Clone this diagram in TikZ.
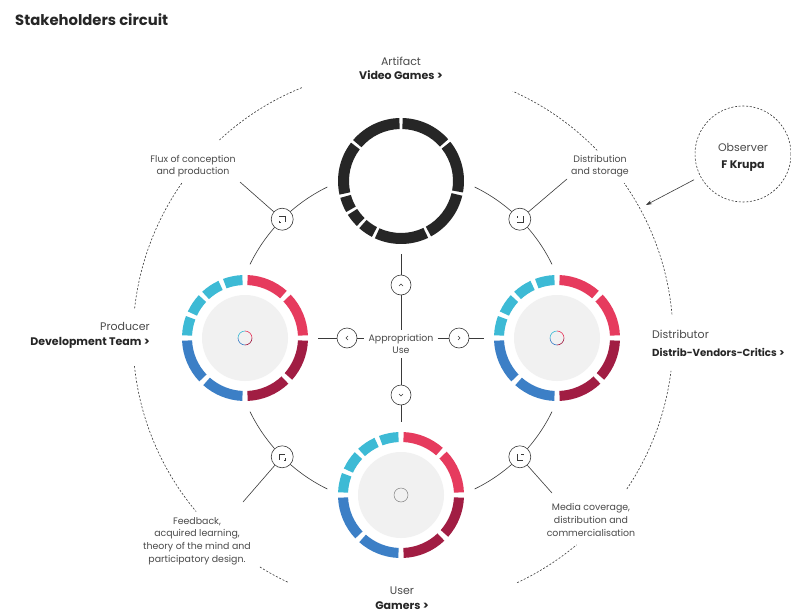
\documentclass[tikz,border=0pt]{standalone}
\usepackage{fontspec}
\setmainfont{Poppins}
\usetikzlibrary{arrows.meta,calc}
\definecolor{cRed}{HTML}{E63B5E}
\definecolor{cDark}{HTML}{A11D43}
\definecolor{cBlue}{HTML}{3C7FC6}
\definecolor{cCyan}{HTML}{3DBAD5}
\definecolor{cBlack}{HTML}{262626}
\definecolor{cDisc}{HTML}{F1F1F1}
\definecolor{cLine}{HTML}{3A3A3A}
\definecolor{cText}{HTML}{4A4A4A}
% ring segment: centre node, outer r, inner r, angle a1, angle a2, colour
\newcommand\rseg[6]{%
  \fill[#6] ($(#1.center)+(-#4:#2)$) arc[start angle=-#4,end angle=-#5,radius=#2]
    -- ($(#1.center)+(-#5:#3)$) arc[start angle=-#5,end angle=-#4,radius=#3] -- cycle;}
\newcommand\colring[1]{%
  \fill[cDisc] (#1.center) circle[radius=43];
  \foreach \a/\b/\c in {2.5/43.5/cRed,48.5/87.5/cRed,
      92.5/110.4/cCyan,114.9/132.8/cCyan,137.2/155.1/cCyan,159.6/177.5/cCyan,
      182.5/223.5/cBlue,228.5/267.5/cBlue,
      272.5/313.5/cDark,318.5/357.5/cDark}
    {\rseg{#1}{63}{53}{\a}{\b}{\c}}}
\newcommand\minicol[1]{%
  \foreach \a/\c in {0/cRed,90/cCyan,180/cBlue,270/cDark}
    {\draw[\c,line width=0.6pt] ($(#1.center)+(-\a:7)$) arc[start angle=-\a,end angle=-\a-90,radius=7];}}
\newcommand\darc[2]{%
  \draw[bigdash] ($(B)+(-#1:270)$) arc[start angle=-#1,end angle=-#2,radius=270];}
\newcommand\carc[2]{%
  \draw[conn] ($(C)+(-#1:168)$) arc[start angle=-#1,end angle=-#2,radius=168];}
\begin{document}
\begin{tikzpicture}[x=1pt,y=-1pt,
  ringnode/.style={circle,minimum size=146pt,inner sep=0pt},
  hub/.style={circle,draw=cLine,line width=0.6pt,fill=white,minimum size=22pt,inner sep=0pt},
  xhub/.style={hub,minimum size=20pt},
  conn/.style={draw=cLine,line width=0.6pt},
  glyph/.style={draw=cLine,line width=0.55pt},
  bigdash/.style={draw=cLine,line width=0.6pt,dash pattern=on 2pt off 1.7pt},
  lab/.style={font=\fontsize{9.4}{12.6}\selectfont,text=cText,align=center,inner sep=0pt},
  head/.style={font=\fontsize{11}{12}\selectfont,text=cText,inner sep=0pt},
  headb/.style={font=\fontsize{11}{12}\selectfont\bfseries,text=black!85,inner sep=0pt}]
\clip (0,0) rectangle (791,615);
\fill[white] (0,0) rectangle (791,615);

\node[anchor=west,inner sep=0pt,font=\fontsize{14.8}{16}\selectfont\bfseries,text=black!85] (title) at (15,20) {Stakeholders circuit};

\coordinate (C) at (401,338);
\coordinate (B) at (403,338);

% outer dashed circle (broken at labels)
\darc{5}{35}\darc{44}{66}\darc{112}{133}\darc{145}{174}
\darc{186}{220}\darc{238}{245}\darc{295}{310}\darc{326}{353}

% ring placeholders
\node[ringnode] (top) at (401,181) {};
\node[ringnode] (left) at (245,338) {};
\node[ringnode] (right) at (557,338) {};
\node[ringnode] (bottom) at (401,495) {};

% black ring
\foreach \a/\b in {41.5/88.5,91.5/139.5,142.5/192.5,195.5/209.5,212.5/225.5,
    228.5/242.5,245.5/295.5,298.5/346.5,349.5/398.5}
  {\rseg{top}{63}{52}{\a}{\b}{cBlack}}

% coloured rings
\colring{left}\colring{right}\colring{bottom}
\minicol{left}\minicol{right}
\draw[gray,line width=0.5pt] (bottom.center) circle[radius=7];

% connector arcs between rings
\carc{116}{154}\carc{26}{64}\carc{206}{244}\carc{296}{334}

\node[hub] (htl) at ($(C)+(-135:168)$) {};
\node[hub] (htr) at ($(C)+(-45:168)$) {};
\node[hub] (hbl) at ($(C)+(-225:168)$) {};
\node[hub] (hbr) at ($(C)+(-315:168)$) {};

% glyphs in hubs
\draw[glyph] ($(htl)+(-3,-3)$) -- ++(6,0) -- ++(0,6);
\draw[glyph] ($(htl)+(-3,1.5)$) -- ++(0,1.5) -- ++(1.5,0);
\draw[glyph] ($(htr)+(-3,3)$) -- ++(6,0) -- ++(0,-6);
\draw[glyph] ($(htr)+(-3,-1.5)$) -- ++(0,-1.5) -- ++(1.5,0);
\draw[glyph] ($(hbl)+(-3,3)$) -- ++(0,-6) -- ++(6,0);
\draw[glyph] ($(hbl)+(3,1.5)$) -- ++(0,1.5) -- ++(-1.5,0);
\draw[glyph] ($(hbr)+(-3,-3)$) -- ++(0,6) -- ++(6,0);
\draw[glyph] ($(hbr)+(3,-1.5)$) -- ++(0,-1.5) -- ++(-1.5,0);

% labels of the flows
\node[lab] (flux) at (193,166) {Flux of conception\\and production};
\node[lab] (dist) at (600,166) {Distribution\\and storage};
\node[lab] (feed) at (197,541) {Feedback,\\acquired learning,\\theory of the mind and\\participatory design.};
\node[lab] (media) at (591,520) {Media coverage,\\distribution and\\commercialisation};

\coordinate (ltl) at (240,182);
\coordinate (ltr) at (567,179);
\coordinate (lbl) at (243,502);
\coordinate (lbr) at (552,493);
\draw[conn] (htl) -- (ltl);
\draw[conn] (htr) -- (ltr);
\draw[conn] (hbl) -- (lbl);
\draw[conn] (hbr) -- (lbr);

% central cross
\node[lab,inner sep=4pt] (app) at (401,344) {Appropriation\\Use};
\node[xhub] (nup) at (401,285) {};
\node[xhub] (ndn) at (401,395) {};
\node[xhub] (nl) at (347,338) {};
\node[xhub] (nr) at (459,338) {};
\draw[conn] (top) -- (nup) -- (app.north);
\draw[conn] (app.south) -- (ndn) -- (bottom);
\draw[conn] (left) -- (nl) -- (nl -| app.west);
\draw[conn] (nr -| app.east) -- (nr) -- (right);
\draw[glyph] ($(nup)+(-2,1)$) -- ++(2,-2) -- ++(2,2);
\draw[glyph] ($(ndn)+(-2,-1)$) -- ++(2,2) -- ++(2,-2);
\draw[glyph] ($(nl)+(1,-2)$) -- ++(-2,2) -- ++(2,2);
\draw[glyph] ($(nr)+(-1,-2)$) -- ++(2,2) -- ++(-2,2);

% stakeholder labels
\node[head] (art) at (401,61) {Artifact};
\node[headb] (artb) at (401,75) {Video Games >};
\node[head,anchor=east] (prod) at (150,326) {Producer};
\node[headb,anchor=east] (prodb) at (150,343) {Development Team >};
\node[head,anchor=west] (distr) at (652,334) {Distributor};
\node[headb,anchor=west,font=\fontsize{10.2}{12}\selectfont\bfseries] (distrb) at (652,352) {Distrib-Vendors-Critics >};
\node[head] (user) at (402,591) {User};
\node[headb] (userb) at (402,606) {Gamers >};

% observer
\node[circle,draw=cLine,line width=0.6pt,dash pattern=on 2pt off 1.7pt,minimum size=96pt,inner sep=0pt] (obs) at (743,154) {};
\node[head] (obst) at (743,147) {Observer};
\node[headb] (obsn) at (743,166) {F Krupa};
\coordinate (obsT) at (646,205);
\draw[conn,shorten <=7pt,-{Stealth[length=6pt,width=4pt]}] (obs) -- (obsT);
\end{tikzpicture}
\end{document}
